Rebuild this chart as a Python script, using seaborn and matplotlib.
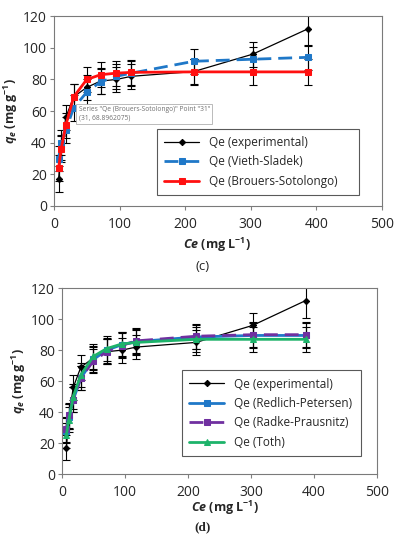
import matplotlib
matplotlib.use('Agg')
import matplotlib.pyplot as plt
import seaborn as sns
import pandas as pd

sns.set_style('ticks')
plt.rcParams['font.family'] = ['Open Sans', 'DejaVu Sans']
plt.rcParams['mathtext.fontset'] = 'custom'
plt.rcParams['mathtext.it'] = 'Open Sans:bold:italic'
plt.rcParams['mathtext.rm'] = 'Open Sans:bold'
plt.rcParams['mathtext.bf'] = 'Open Sans:bold'

# Datos
ce = [7, 11, 18, 30, 50, 71, 95, 118, 213, 303, 387]
qe_exp = [17, 37, 56, 69, 75, 79, 80, 82, 85, 96, 112]
err_exp = [8, 8, 8, 8, 8, 8, 8, 8, 8, 8, 11]

qe_vieth = [30, 40, 48, 62, 72, 78.5, 82, 84, 91.5, 92.8, 94]
qe_brouers = [24, 36, 51, 69, 80, 83, 84, 84.5, 84.8, 84.8, 84.8]

qe_redlich = [28, 37, 48, 62, 74, 80, 83.5, 85.5, 88.5, 89.5, 89.5]
qe_radke = [29, 38, 48, 62, 73, 79, 83, 86, 89, 90, 90]
qe_toth = [25, 35, 50, 64, 76, 81, 84, 85, 87, 87, 87]
err_mod = [8, 8, 8, 8, 8, 8, 8, 8, 8, 8, 8]

fig = plt.figure(figsize=(3.97, 5.5), dpi=100)
ax1 = fig.add_axes([0.136, 0.6255, 0.826, 0.345])
ax2 = fig.add_axes([0.156, 0.138, 0.793, 0.338])


def serie(ax, y, err, color, marker, label, ls='-', lw=2.0, ms=4.5):
    df = pd.DataFrame({'ce': ce, 'qe': y})
    ax.errorbar(ce, y, yerr=err, fmt='none', ecolor='black', elinewidth=0.8, capsize=3, capthick=0.8, zorder=2)
    sns.lineplot(data=df, x='ce', y='qe', ax=ax, color=color, marker=marker, markersize=ms,
                 markeredgecolor=color, linewidth=lw, linestyle=ls, label=label, sort=False, zorder=3)


def estilo(ax, leg_box):
    ax.set_xlim(0, 500)
    ax.set_ylim(0, 120)
    ax.set_xticks(range(0, 501, 100))
    ax.set_yticks(range(0, 121, 20))
    ax.tick_params(axis='both', labelsize=10, color='#808080', length=3, width=0.8, direction='out', pad=2)
    ax.tick_params(axis='x', pad=5)
    for s in ax.spines.values():
        s.set_color('#7a7a7a')
        s.set_linewidth(0.8)
    ax.set_xlabel('')
    ax.set_ylabel(r'$q_e$ (mg g$^{-1}$)', fontsize=9, fontweight='bold', labelpad=2)
    leg = ax.legend(loc='lower left', bbox_to_anchor=leg_box, mode='expand', fontsize=8.5,
                    frameon=True, fancybox=False, edgecolor='#303030', handlelength=3,
                    borderaxespad=0, labelspacing=0.55, borderpad=0.6)
    leg.get_frame().set_linewidth(0.8)


# (c)
serie(ax1, qe_exp, err_exp, 'black', 'D', 'Qe (experimental)', lw=0.9, ms=3.2)
serie(ax1, qe_vieth, err_mod, '#1F78C8', 's', 'Qe (Vieth-Sladek)', ls=(0, (5, 2.5)))
serie(ax1, qe_brouers, err_mod, '#FF1010', 's', 'Qe (Brouers-Sotolongo)')
estilo(ax1, (0.314, 0.058, 0.616, 0.316))
ax1.text(0.075, 0.525, 'Series "Qe (Brouers-Sotolongo)" Point "31"\n(31, 68.8962075)', transform=ax1.transAxes,
         fontsize=4.8, color='#707070', va='top', ha='left', zorder=5,
         bbox=dict(boxstyle='square,pad=0.35', facecolor='white', edgecolor='#B0B0B0', linewidth=0.6))

# (d)
serie(ax2, qe_exp, err_exp, 'black', 'D', 'Qe (experimental)', lw=0.9, ms=3.2)
serie(ax2, qe_redlich, err_mod, '#1F78C8', 's', 'Qe (Redlich-Petersen)')
serie(ax2, qe_radke, err_mod, '#7030A0', 's', 'Qe (Radke-Prausnitz)', ls=(0, (5, 2.5)))
serie(ax2, qe_toth, err_mod, '#1DB36A', '^', 'Qe (Toth)')
estilo(ax2, (0.381, 0.097, 0.568, 0.381))

fig.text(0.547, 1 - 245 / 550, r'$Ce$ (mg L$^{-1}$)', fontsize=9, fontweight='bold', ha='center', va='center')
fig.text(0.509, 1 - 266 / 550, '(c)', fontsize=9.5, ha='center', va='center')
fig.text(0.567, 1 - 508 / 550, r'$Ce$ (mg L$^{-1}$)', fontsize=9, fontweight='bold', ha='center', va='center')
fig.text(0.509, 1 - 527 / 550, '(d)', fontsize=9.5, fontweight='bold', ha='center', va='center', family='Liberation Serif')

plt.savefig('out.png', dpi=100)
